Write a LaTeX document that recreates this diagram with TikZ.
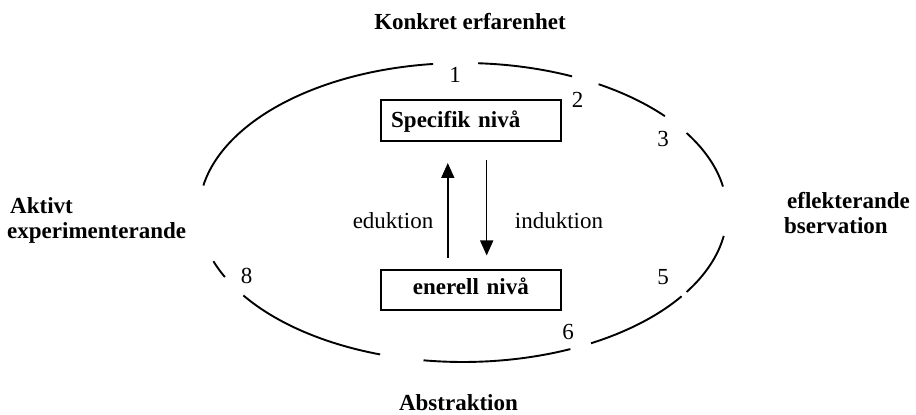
\documentclass[tikz,border=0pt]{standalone}
\usepackage{fontspec}
\setmainfont{Liberation Serif}
\usetikzlibrary{arrows.meta,calc}
\begin{document}
\begin{tikzpicture}[x=1pt,y=1pt,
  ring/.style={line width=1.9pt},
  levelbox/.style={draw,line width=1.7pt,minimum width=180.3pt,inner ysep=0pt,inner xsep=10.5pt,text width=159.3pt,font=\fontsize{23}{27}\selectfont\bfseries},
  lbl/.style={inner sep=0pt,font=\fontsize{23}{27}\selectfont},
  blbl/.style={inner sep=0pt,font=\fontsize{23}{27}\selectfont\bfseries},
  flow/.style={line width=1.5pt,-{Triangle[length=15pt,width=13pt]}}]
\useasboundingbox (0,0) rectangle (916,415);
\coordinate (ctr) at (463,202.5);
% broken ellipse
\foreach \a/\b in {96.5/169.6, 65.6/86.7, 40.1/59.1, 10/32.1, -32.1/-9, -61/-34.1, -98.6/-66, -146.3/-108.3, -161/-154.4}
  \draw[ring] ($(ctr)+({264*cos(\a)},{149.5*sin(\a)})$) arc[start angle=\a, end angle=\b, x radius=264pt, y radius=149.5pt];
% level boxes
\node[levelbox, minimum height=40.7pt, text height=18pt, text depth=4.1pt, align=left] (spec) at (470.85,294.65) {Specifik nivå};
\node[levelbox, minimum height=40pt, text height=17pt, text depth=7pt, align=center] (gen) at (470.85,125) {enerell nivå};
% arrows
\coordinate (eduS) at (447.8,157.4);
\coordinate (eduE) at (447.8,252);
\draw[flow] (eduS) -- (eduE);
\coordinate (indS) at (486.7,255);
\coordinate (indE) at (486.7,159.5);
\draw[flow] (indS) -- (indE);
\node[lbl, anchor=base] (edu) at (393,186.7) {eduktion};
\node[lbl, anchor=base] (ind) at (559,186.7) {induktion};
% numbers
\node[lbl, anchor=base] (n1) at (455,332.3) {1};
\node[lbl, anchor=base] (n2) at (577.5,307) {2};
\node[lbl, anchor=base] (n3) at (663,268.3) {3};
\node[lbl, anchor=base] (n5) at (663,130) {5};
\node[lbl, anchor=base] (n6) at (568,75) {6};
\node[lbl, anchor=base] (n8) at (246.7,131) {8};
% phase labels
\node[blbl, anchor=base] (top) at (470,385) {Konkret erfarenhet};
\node[blbl, anchor=base] (bot) at (458.5,4.5) {Abstraktion};
\node[blbl, anchor=base west] (akt1) at (10,201.7) {Aktivt};
\node[blbl, anchor=base west] (akt2) at (7,176.7) {experimenterande};
\node[blbl, anchor=base west] (ref1) at (787,206.7) {eflekterande};
\node[blbl, anchor=base west] (ref2) at (784,181.7) {bservation};
\end{tikzpicture}
\end{document}
